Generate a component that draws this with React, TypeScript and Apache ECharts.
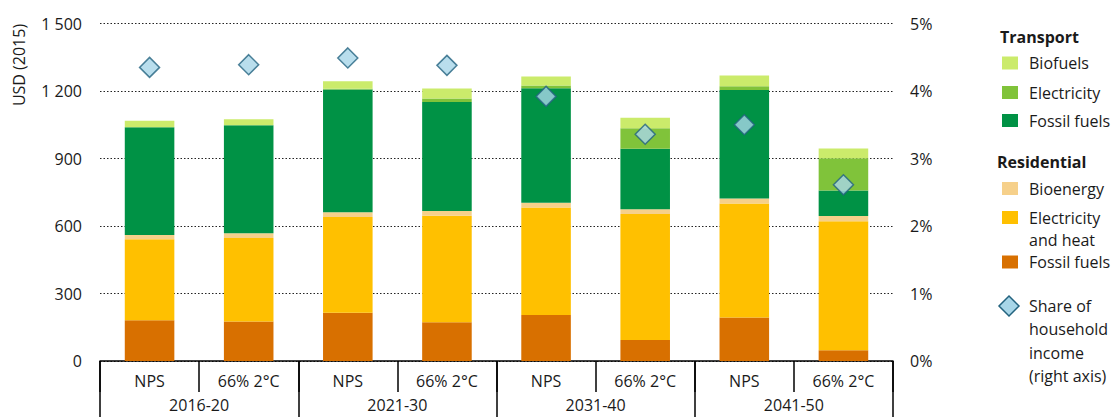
import React, { useEffect, useRef } from "react";
import * as echarts from "echarts";

const scenarios = ["NPS", "66% 2°C", "NPS", "66% 2°C", "NPS", "66% 2°C", "NPS", "66% 2°C"];
const periods = ["2016-20", "2021-30", "2031-40", "2041-50"];

const resFossil = [181, 176, 215, 172, 204, 93, 193, 48];
const resElecHeat = [360, 371, 425, 474, 478, 560, 507, 573];
const resBioenergy = [19, 21, 21, 21, 21, 22, 22, 24];
const trFossil = [479, 480, 546, 484, 509, 268, 482, 113];
const trElectricity = [0, 0, 3, 16, 13, 92, 17, 143];
const trBiofuels = [29, 27, 33, 44, 40, 46, 48, 43];
const incomeShare = [4.35, 4.39, 4.49, 4.38, 3.92, 3.36, 3.5, 2.61];

const FONT = "'Open Sans', sans-serif";
const TXT = "#1a1a1a";
const FS = 16;

const C = {
  resFossil: "#D87000",
  resElec: "#FFC000",
  resBio: "#F6D08A",
  trFossil: "#009245",
  trElec: "#80C33A",
  trBio: "#CBEB6B",
  diaFill: "#A8D6E8",
  diaStroke: "#23637F",
};

export default function App() {
  const ref = useRef<HTMLDivElement>(null);
  useEffect(() => {
    document.body.style.margin = "0";
    if (!ref.current) return;
    const chart = echarts.init(ref.current, null, { renderer: "svg" });
    const bar = (name: string, data: number[], color: string) => ({
      name,
      type: "bar",
      stack: "total",
      data,
      barWidth: "50%",
      itemStyle: { color },
      xAxisIndex: 0,
      yAxisIndex: 0,
    });
    const legendItem = (y: number, color: string, lines: string[]) => [
      { type: "rect", shape: { x: 1002, y: y - 6.5, width: 16, height: 13 }, style: { fill: color } },
      ...lines.map((t, i) => ({
        type: "text",
        x: 1029,
        y: y + i * 22,
        style: { text: t, fill: TXT, font: `${FS}px ${FONT}`, textVerticalAlign: "middle", textAlign: "left" },
      })),
    ];
    chart.setOption({
      animation: false,
      textStyle: { fontFamily: FONT },
      grid: { left: 100, right: 220, top: 23.5, bottom: 56 },
      xAxis: [
        {
          type: "category",
          data: scenarios,
          position: "bottom",
          axisLine: { show: true, lineStyle: { color: "#000", width: 1.5 } },
          axisTick: { show: true, length: 31, lineStyle: { color: "#000", width: 1.5 } },
          axisLabel: { color: TXT, fontSize: FS, fontFamily: FONT, margin: 12, interval: 0 },
        },
        {
          type: "category",
          data: periods,
          position: "bottom",
          axisLine: { show: false },
          axisTick: { show: true, length: 60, lineStyle: { color: "#000", width: 1.5 } },
          axisLabel: { color: TXT, fontSize: FS, lineHeight: 16, fontFamily: FONT, margin: 36, interval: 0 },
        },
      ],
      yAxis: [
        {
          type: "value",
          min: 0,
          max: 1500,
          interval: 300,
          axisLine: { show: false },
          axisTick: { show: false },
          axisLabel: {
            color: TXT,
            fontSize: FS,
            fontFamily: FONT,
            margin: 18,
            formatter: (v: number) => (v >= 1000 ? `${Math.floor(v / 1000)} ${String(v % 1000).padStart(3, "0")}` : `${v}`),
          },
          splitLine: { show: true, lineStyle: { color: "#222", type: [1.5, 2], width: 1.2 } },
        },
        {
          type: "value",
          min: 0,
          max: 5,
          interval: 1,
          position: "right",
          axisLine: { show: false },
          axisTick: { show: false },
          axisLabel: { color: TXT, fontSize: FS, fontFamily: FONT, margin: 17, formatter: "{value}%" },
          splitLine: { show: false },
        },
      ],
      series: [
        bar("Residential fossil fuels", resFossil, C.resFossil),
        bar("Residential electricity and heat", resElecHeat, C.resElec),
        bar("Residential bioenergy", resBioenergy, C.resBio),
        bar("Transport fossil fuels", trFossil, C.trFossil),
        bar("Transport electricity", trElectricity, C.trElec),
        bar("Transport biofuels", trBiofuels, C.trBio),
        {
          name: "Share of household income",
          type: "scatter",
          data: incomeShare,
          xAxisIndex: 0,
          yAxisIndex: 1,
          symbol: "diamond",
          symbolSize: 20,
          itemStyle: { color: C.diaFill, borderColor: C.diaStroke, borderWidth: 1.5 },
          z: 5,
        },
      ],
      graphic: [
        {
          type: "text",
          x: 19,
          y: 65,
          rotation: Math.PI / 2,
          style: { text: "USD (2015)", fill: TXT, font: `${FS}px ${FONT}`, textAlign: "center", textVerticalAlign: "middle" },
        },
        { type: "text", x: 1000, y: 36.5, style: { text: "Transport", fill: TXT, font: `bold ${FS}px ${FONT}`, textVerticalAlign: "middle" } },
        ...legendItem(63, C.trBio, ["Biofuels"]),
        ...legendItem(92.5, C.trElec, ["Electricity"]),
        ...legendItem(120.5, C.trFossil, ["Fossil fuels"]),
        { type: "text", x: 997, y: 162, style: { text: "Residential", fill: TXT, font: `bold ${FS}px ${FONT}`, textVerticalAlign: "middle" } },
        ...legendItem(188.5, C.resBio, ["Bioenergy"]),
        ...legendItem(217.5, C.resElec, ["Electricity", "and heat"]),
        ...legendItem(262, C.resFossil, ["Fossil fuels"]),
        {
          type: "polygon",
          shape: { points: [[1009, 296], [1019, 306], [1009, 316], [999, 306]] },
          style: { fill: C.diaFill, stroke: C.diaStroke, lineWidth: 1.5 },
        },
        ...["Share of", "household", "income", "(right axis)"].map((t, i) => ({
          type: "text",
          x: 1029,
          y: 306 + i * 23.3,
          style: { text: t, fill: TXT, font: `${FS}px ${FONT}`, textVerticalAlign: "middle" },
        })),
      ],
    });
    return () => chart.dispose();
  }, []);
  return <div ref={ref} style={{ width: 1113, height: 417 }} />;
}
